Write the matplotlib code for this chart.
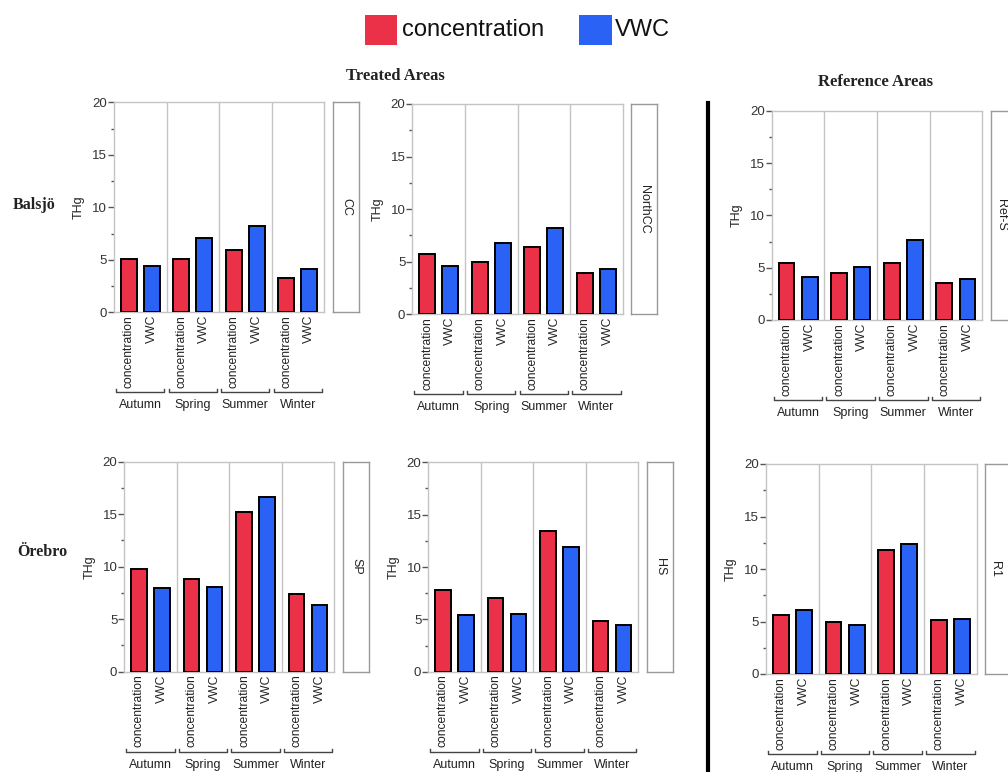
import matplotlib
matplotlib.use('Agg')
import matplotlib.pyplot as plt
from matplotlib.patches import Rectangle
from matplotlib.lines import Line2D
import numpy as np

plt.rcParams['font.family'] = ['Liberation Sans', 'DejaVu Sans']

seasons = ['Autumn', 'Spring', 'Summer', 'Winter']
variables = ['concentration', 'VWC']

cc_conc = [5.05, 5.05, 5.95, 3.25]
cc_vwc = [4.4, 7.1, 8.2, 4.1]
northcc_conc = [5.75, 5.0, 6.4, 3.9]
northcc_vwc = [4.6, 6.8, 8.25, 4.3]
refs_conc = [5.4, 4.5, 5.4, 3.5]
refs_vwc = [4.1, 5.05, 7.6, 3.9]
sp_conc = [9.8, 8.85, 15.25, 7.4]
sp_vwc = [7.95, 8.1, 16.65, 6.35]
hs_conc = [7.85, 7.0, 13.45, 4.8]
hs_vwc = [5.4, 5.55, 11.95, 4.5]
r1_conc = [5.6, 4.95, 11.8, 5.1]
r1_vwc = [6.05, 4.7, 12.35, 5.25]

RED = '#EA3147'
BLUE = '#2A62F6'
W, H = 1008, 772

fig = plt.figure(figsize=(W / 100, H / 100), dpi=100)


def fbox(x0, y0, x1, y1):
    return [x0 / W, 1 - y1 / H, (x1 - x0) / W, (y1 - y0) / H]


panels = [
    ('CC', cc_conc, cc_vwc, (114, 102.3, 324, 312.3), (332.7, 102.3, 359.3, 312.3), 0.5),
    ('NorthCC', northcc_conc, northcc_vwc, (412.3, 104, 622.7, 314.3), (630.7, 104, 657.3, 314.3), 0.5),
    ('Ref-S', refs_conc, refs_vwc, (771.7, 110.7, 982.3, 320), (991, 110.7, 1017.6, 320), 0.38),
    ('SP', sp_conc, sp_vwc, (124.3, 461.7, 334.3, 671.7), (343.3, 461.7, 369.3, 671.7), 0.5),
    ('HS', hs_conc, hs_vwc, (428.3, 462.3, 638.3, 671.7), (647.3, 462.3, 673.3, 671.7), 0.5),
    ('R1', r1_conc, r1_vwc, (766, 464, 976.7, 674), (985, 464, 1011, 674), 0.4),
]

frame_col = '#c4c4c4'
for name, conc, vwc, box, sbox, tx in panels:
    ax = fig.add_axes(fbox(*box))
    hpx = box[3] - box[1]
    x = np.arange(len(seasons))
    ax.bar(x + 0.28, conc, width=0.30, color=RED, edgecolor='black', linewidth=1.4, zorder=3)
    ax.bar(x + 0.72, vwc, width=0.30, color=BLUE, edgecolor='black', linewidth=1.4, zorder=3)
    ax.set_xlim(0, 4)
    ax.set_ylim(0, 20)
    for d in (1, 2, 3):
        ax.axvline(d, color=frame_col, linewidth=1.0, zorder=1)
    for s in ax.spines.values():
        s.set_color(frame_col)
        s.set_linewidth(1.0)
    ax.set_yticks([0, 5, 10, 15, 20])
    ax.set_yticks([2.5, 7.5, 12.5, 17.5], minor=True)
    ax.tick_params(axis='y', which='major', length=4, width=1, color='#555555',
                   labelsize=9.5, labelcolor='#333333', pad=1)
    ax.tick_params(axis='y', which='minor', length=2, width=1, color='#555555')
    pos = np.column_stack([x + 0.28, x + 0.72]).ravel()
    labs = variables * len(seasons)
    ax.set_xticks(pos)
    ax.set_xticklabels(labs, rotation=90, fontsize=8.7, color='#222222')
    ax.tick_params(axis='x', length=0, pad=2)
    ax.set_ylabel('THg', fontsize=9, color='#222222')
    ax.yaxis.set_label_coords(-29 / (box[2] - box[0]), 0.5)
    tr = ax.get_xaxis_transform()
    yb = -80 / hpx
    yt = -77 / hpx
    for i, s in enumerate(seasons):
        ax.plot([i + 0.04, i + 0.04, i + 0.96, i + 0.96], [yt, yb, yb, yt],
                transform=tr, color='#444444', linewidth=1.0, clip_on=False)
        ax.text(i + 0.5, -93 / hpx, s, transform=tr, ha='center', va='center',
                fontsize=9, color='#222222')
    # strip
    sax = fig.add_axes(fbox(*sbox))
    sax.set_xticks([])
    sax.set_yticks([])
    for s in sax.spines.values():
        s.set_color('#999999')
        s.set_linewidth(1.0)
    sax.text(tx, 0.5, name, rotation=270, ha='center', va='center',
             fontsize=9, color='#222222', transform=sax.transAxes)

# separator line
fig.add_artist(Line2D([707.7 / W, 707.7 / W], [1 - 103 / H, 0], transform=fig.transFigure,
                      color='black', linewidth=3.0))

# titles
serif = ['Liberation Serif', 'DejaVu Serif']
fig.text(395 / W, 1 - 76 / H, 'Treated Areas', ha='center', va='center', fontsize=12,
         fontweight='bold', family=serif, color='#222222')
fig.text(875 / W, 1 - 82 / H, 'Reference Areas', ha='center', va='center', fontsize=12,
         fontweight='bold', family=serif, color='#222222')
fig.text(34 / W, 1 - 205 / H, 'Balsjö', ha='center', va='center', fontsize=11.5,
         fontweight='bold', family=serif, color='#222222')
fig.text(42 / W, 1 - 552 / H, 'Örebro', ha='center', va='center', fontsize=11.5,
         fontweight='bold', family=serif, color='#222222')

# legend
fig.add_artist(Rectangle((365 / W, 1 - 45 / H), 31.7 / W, 30 / H, transform=fig.transFigure,
                         facecolor=RED, edgecolor='none'))
fig.text(402 / W, 1 - 30 / H, variables[0], ha='left', va='center', fontsize=17, color='#111111')
fig.add_artist(Rectangle((579.3 / W, 1 - 45 / H), 32.4 / W, 30 / H, transform=fig.transFigure,
                         facecolor=BLUE, edgecolor='none'))
fig.text(615 / W, 1 - 30 / H, variables[1], ha='left', va='center', fontsize=17, color='#111111')

fig.savefig('out.png', dpi=100, facecolor='white')
